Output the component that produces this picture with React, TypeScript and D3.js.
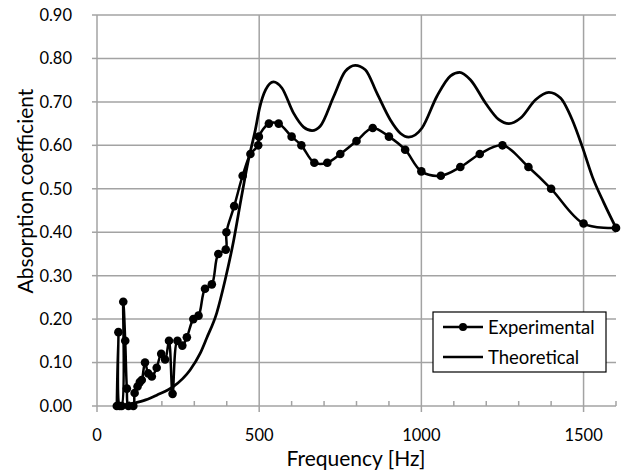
import React from "react";
import * as d3 from "d3";

const expFreq = [61, 66, 70, 76, 81, 87, 92, 97, 112, 116, 125, 132, 138, 148, 158, 169, 184, 198, 210, 222, 233, 248, 263, 277, 297, 313, 333, 354, 374, 397, 399, 423, 449, 473, 497, 499, 530, 560, 600, 630, 670, 710, 750, 800, 850, 900, 950, 1000, 1060, 1120, 1180, 1250, 1330, 1400, 1500, 1600];
const expVal = [0.0, 0.17, 0.0, 0.0, 0.24, 0.15, 0.04, 0.0, 0.0, 0.03, 0.045, 0.055, 0.06, 0.1, 0.075, 0.068, 0.088, 0.12, 0.107, 0.15, 0.028, 0.15, 0.139, 0.158, 0.2, 0.208, 0.27, 0.28, 0.35, 0.36, 0.4, 0.46, 0.53, 0.58, 0.6, 0.62, 0.65, 0.65, 0.62, 0.6, 0.56, 0.56, 0.58, 0.61, 0.64, 0.62, 0.59, 0.54, 0.53, 0.55, 0.58, 0.6, 0.55, 0.5, 0.42, 0.41];

const thFreq = [75, 112, 150, 184, 236, 287, 318, 338, 369, 395, 421, 445, 467, 488, 501, 520, 544, 570, 606, 637, 663, 688, 730, 765, 796, 827, 863, 904, 935, 961, 1002, 1048, 1090, 1118, 1151, 1198, 1239, 1270, 1306, 1352, 1393, 1429, 1465, 1496, 1527, 1563, 1600];
const thVal = [0.0, 0.006, 0.014, 0.025, 0.045, 0.083, 0.121, 0.156, 0.214, 0.29, 0.38, 0.48, 0.567, 0.635, 0.685, 0.728, 0.746, 0.732, 0.674, 0.642, 0.634, 0.644, 0.713, 0.77, 0.784, 0.774, 0.72, 0.659, 0.628, 0.619, 0.64, 0.713, 0.76, 0.768, 0.751, 0.697, 0.659, 0.65, 0.663, 0.705, 0.722, 0.709, 0.659, 0.597, 0.528, 0.467, 0.41];

const yTicks = [0, 0.1, 0.2, 0.3, 0.4, 0.5, 0.6, 0.7, 0.8, 0.9];
const xMajor = [0, 500, 1000, 1500];
const xMinor = [100, 200, 300, 400, 600, 700, 800, 900, 1100, 1200, 1300, 1400, 1600];
const seriesNames = ["Experimental", "Theoretical"];

const FONT = "Lato, 'Liberation Sans', sans-serif";
const GRID = "#a3a3a3";

export default function App() {
  const W = 623, H = 473;
  const left = 97, right = 616, top = 15, bottom = 406;
  const x = d3.scaleLinear().domain([0, 1600]).range([left, right]);
  const y = d3.scaleLinear().domain([0, 0.9]).range([bottom, top]);

  const expData = expFreq.map((f, i) => [f, expVal[i]] as [number, number]);
  const thData = thFreq.map((f, i) => [f, thVal[i]] as [number, number]);

  const expLine = d3.line<[number, number]>()
    .x(d => x(d[0])).y(d => y(d[1]))
    .curve(d3.curveCatmullRom.alpha(0.5));
  const thLine = d3.line<[number, number]>()
    .x(d => x(d[0])).y(d => y(d[1]))
    .curve(d3.curveMonotoneX);

  const legX = 433, legY = 312, legW = 173, legH = 60;

  return (
    <svg width={W} height={H} style={{ position: "absolute", left: 0, top: 0, background: "#fff" }} fontFamily={FONT}>
      <rect x={0} y={0} width={W} height={H} fill="#fff" />
      {yTicks.filter(t => t > 0).map(t => (
        <line key={"h" + t} x1={left} x2={right} y1={y(t)} y2={y(t)} stroke={GRID} strokeWidth={1.5} />
      ))}
      {xMajor.filter(t => t > 0).map(t => (
        <line key={"v" + t} x1={x(t)} x2={x(t)} y1={top} y2={bottom} stroke={GRID} strokeWidth={1.5} />
      ))}
      <line x1={left} x2={left} y1={top} y2={bottom} stroke={GRID} strokeWidth={1.5} />
      <line x1={left} x2={right} y1={bottom} y2={bottom} stroke={GRID} strokeWidth={1.5} />
      {yTicks.map(t => (
        <line key={"yt" + t} x1={left - 5} x2={left} y1={y(t)} y2={y(t)} stroke={GRID} strokeWidth={1.5} />
      ))}
      {xMajor.map(t => (
        <line key={"xt" + t} x1={x(t)} x2={x(t)} y1={bottom} y2={bottom + 6} stroke={GRID} strokeWidth={1.5} />
      ))}
      {xMinor.map(t => (
        <line key={"xm" + t} x1={x(t)} x2={x(t)} y1={bottom - 5} y2={bottom} stroke={GRID} strokeWidth={1.5} />
      ))}
      {yTicks.map(t => (
        <text key={"yl" + t} x={72} y={y(t)} dy="0.36em" textAnchor="end" fontSize={16.5} fill="#000">{t.toFixed(2)}</text>
      ))}
      {xMajor.map(t => (
        <text key={"xl" + t} x={x(t)} y={441} textAnchor="middle" fontSize={16.5} fill="#000">{t}</text>
      ))}
      <text x={356} y={466} textAnchor="middle" fontSize={21} fill="#000">Frequency [Hz]</text>
      <text transform={`translate(33,191) rotate(-90)`} textAnchor="middle" fontSize={21} fill="#000">Absorption coefficient</text>

      <path d={thLine(thData) || ""} fill="none" stroke="#000" strokeWidth={2.75} />
      <path d={expLine(expData) || ""} fill="none" stroke="#000" strokeWidth={2.5} strokeLinejoin="round" />
      {expData.map((d, i) => (
        <circle key={"p" + i} cx={x(d[0])} cy={y(d[1])} r={4.3} fill="#000" />
      ))}

      <rect x={legX} y={legY} width={legW} height={legH} fill="#fff" stroke="#000" strokeWidth={1.2} />
      <line x1={443} x2={483} y1={327} y2={327} stroke="#000" strokeWidth={2.5} />
      <circle cx={463} cy={327} r={4} fill="#000" />
      <text x={488} y={327} dy="0.36em" fontSize={18.5} fill="#000">{seriesNames[0]}</text>
      <line x1={443} x2={483} y1={357} y2={357} stroke="#000" strokeWidth={2.5} />
      <text x={488} y={357} dy="0.36em" fontSize={18.5} fill="#000">{seriesNames[1]}</text>
    </svg>
  );
}
